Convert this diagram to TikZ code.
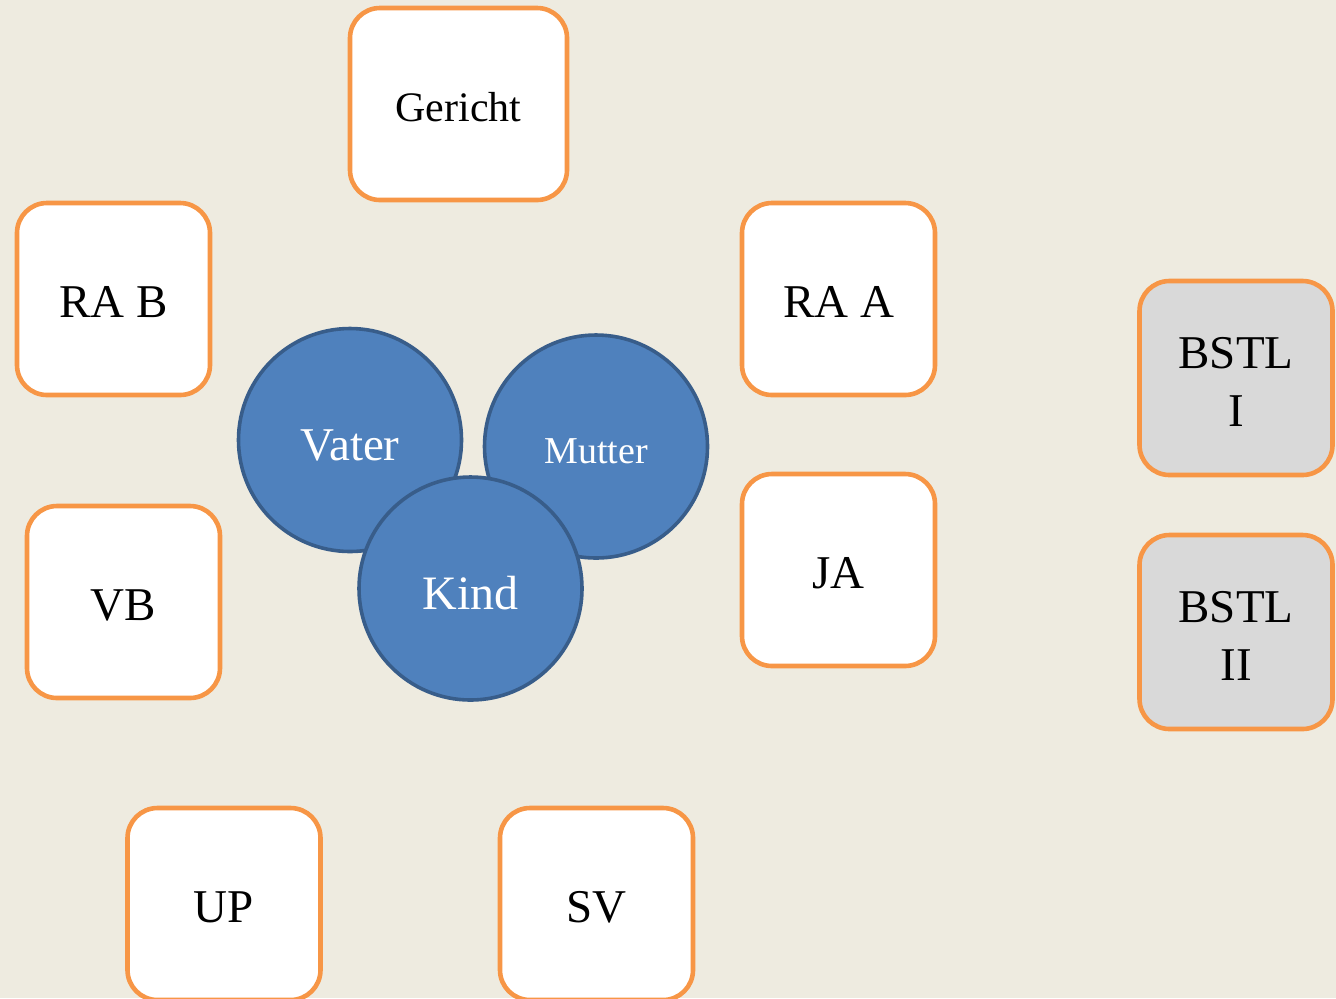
\documentclass[tikz,border=0pt]{standalone}
\usepackage{fontspec}
\setmainfont{Liberation Serif}
\definecolor{bg}{HTML}{EEEBE0}
\definecolor{boxorange}{HTML}{F79646}
\definecolor{boxgray}{HTML}{D9D9D9}
\definecolor{circfill}{HTML}{4F81BD}
\definecolor{circline}{HTML}{385D8A}
\newcommand{\topstrut}{\rule{0pt}{19.5pt}}
\begin{document}
\begin{tikzpicture}[x=0.5pt,y=-0.5pt,
  boxbase/.style={draw=boxorange, line width=2.3pt, fill=white, rounded corners=15pt,
    minimum width=96.5pt, minimum height=96pt, inner sep=0pt, align=center,
    font=\fontsize{23.5}{29}\selectfont},
  box/.style={boxbase, text height=18.5pt, text depth=0pt},
  graybox/.style={boxbase, fill=boxgray, minimum height=97pt},
  person/.style={circle, draw=circline, line width=1.8pt, fill=circfill,
    minimum size=111.5pt, inner sep=0pt, text=white, text height=20.5pt, text depth=0pt,
    font=\fontsize{23.5}{28}\selectfont}]
\fill[bg] (0,0) rectangle (1336,998);
\useasboundingbox (0,0) rectangle (1336,998);

\node[box, minimum width=108.5pt, text height=17.5pt, font=\fontsize{21}{25}\selectfont] (gericht) at (458.5,104) {Gericht};
\node[box] (rab) at (113.5,299) {RA B};
\node[box] (raa) at (838.5,299) {RA A};
\node[box] (vb) at (123.5,602) {VB};
\node[box] (ja) at (838.5,570) {JA};
\node[graybox] (bstl1) at (1236,378) {\topstrut BSTL\\I};
\node[graybox] (bstl2) at (1236,632) {\topstrut BSTL\\II};
\node[box] (up) at (224,904) {UP};
\node[box] (sv) at (596.5,904) {SV};

\node[person] (vater) at (350,440) {Vater};
\node[person, text height=16.5pt, font=\fontsize{19}{23}\selectfont] (mutter) at (596,446.5) {Mutter};
\node[person, font=\fontsize{24}{28}\selectfont] (kind) at (470.5,588.5) {Kind};
\end{tikzpicture}
\end{document}
